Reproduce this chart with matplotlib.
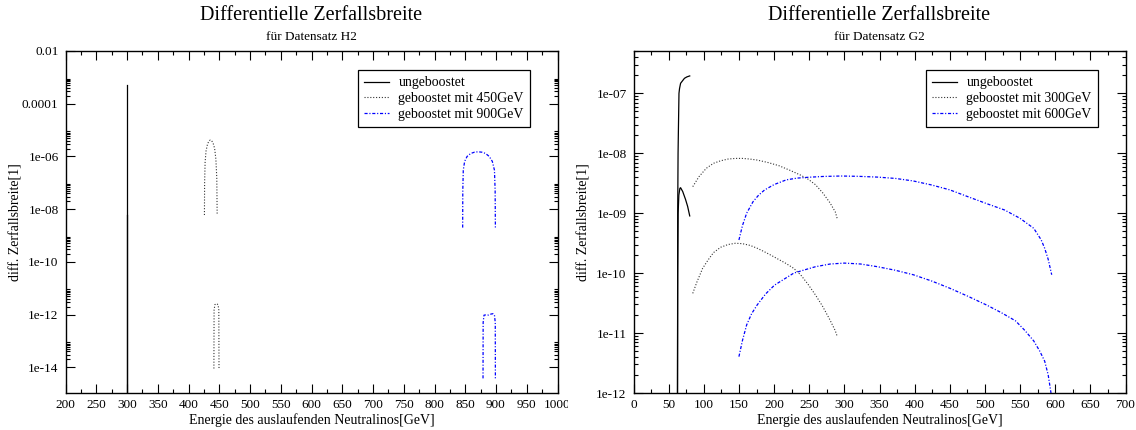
import matplotlib
matplotlib.use('Agg')
import matplotlib.pyplot as plt
from matplotlib.patches import Rectangle
from matplotlib.ticker import FixedLocator, FixedFormatter, MultipleLocator, NullFormatter

plt.rcParams['font.family'] = ['Liberation Serif', 'DejaVu Serif']

# ---------------- data: Datensatz H2 ----------------
h2_title = "Differentielle Zerfallsbreite"
h2_subtitle = "für Datensatz H2"
h2_labels = ["ungeboostet", "geboostet mit 450GeV", "geboostet mit 900GeV"]

h2_unb_a_x = [300.0, 300.0]
h2_unb_a_y = [1e-16, 5e-4]
h2_unb_b_x = [300.0, 300.0]
h2_unb_b_y = [1e-16, 6e-9]

h2_450_a_x = [425.9, 426.2, 427.0, 428.5, 431.0, 433.5, 435.5, 437.5, 440.0, 442.5, 444.5, 446.0, 446.6]
h2_450_a_y = [6e-9, 1e-7, 6e-7, 1.6e-6, 3.0e-6, 3.9e-6, 4.2e-6, 4.0e-6, 3.2e-6, 2.0e-6, 8e-7, 1.5e-7, 6e-9]
h2_450_b_x = [441.3, 441.6, 443.0, 445.5, 448.0, 449.3, 449.6]
h2_450_b_y = [9e-15, 1.5e-12, 2.4e-12, 2.6e-12, 2.4e-12, 1.5e-12, 9e-15]

h2_900_a_x = [845.8, 846.0, 846.8, 849, 853, 859, 865, 871, 877, 883, 889, 894, 897.5, 898.6, 899.0]
h2_900_a_y = [2e-9, 5e-8, 3e-7, 6.5e-7, 1.0e-6, 1.3e-6, 1.45e-6, 1.5e-6, 1.45e-6, 1.3e-6, 1.0e-6, 6.5e-7, 3e-7, 5e-8, 2e-9]
h2_900_b_x = [878.9, 879.1, 880.5, 884, 888, 892, 895, 897.5, 898.8, 899.0]
h2_900_b_y = [3.8e-15, 5e-13, 9.5e-13, 9.8e-13, 9.6e-13, 1.05e-12, 1.08e-12, 9.5e-13, 5e-13, 3.8e-15]

h2_xticks = list(range(200, 1001, 50))
h2_xticklabels = [str(v) for v in h2_xticks]
h2_yticks = [1e-14, 1e-12, 1e-10, 1e-8, 1e-6, 1e-4, 1e-2]
h2_yticklabels = ["1e-14", "1e-12", "1e-10", "1e-08", "1e-06", "0.0001", "0.01"]

# ---------------- data: Datensatz G2 ----------------
g2_title = "Differentielle Zerfallsbreite"
g2_subtitle = "für Datensatz G2"
g2_labels = ["ungeboostet", "geboostet mit 300GeV", "geboostet mit 600GeV"]

g2_unb_a_x = [62.6, 62.9, 63.4, 63.8, 64.7, 65.5, 67.0, 72.5, 76.0, 80.0]
g2_unb_a_y = [1e-12, 1e-9, 1e-8, 2.1e-8, 1e-7, 1.2e-7, 1.47e-7, 1.78e-7, 1.88e-7, 1.95e-7]
g2_unb_b_x = [62.6, 62.9, 63.5, 64.5, 66.0, 67.0, 70.0, 74.0, 77.0, 80.0]
g2_unb_b_y = [1e-12, 1e-10, 1e-9, 2e-9, 2.6e-9, 2.66e-9, 2.3e-9, 1.7e-9, 1.3e-9, 9e-10]

g2_300_a_x = [84.3, 93.1, 103.5, 113.8, 124.2, 134.5, 144.9, 155.2, 165.5, 175.9, 191.4, 206.9,
              222.5, 238.0, 248.3, 258.7, 269.0, 279.4, 287.1, 290.0]
g2_300_a_y = [2.77e-9, 4.06e-9, 5.6e-9, 6.8e-9, 7.5e-9, 8.0e-9, 8.2e-9, 8.2e-9, 8.0e-9, 7.7e-9,
              7.0e-9, 6.2e-9, 5.2e-9, 4.3e-9, 3.7e-9, 3.0e-9, 2.2e-9, 1.5e-9, 1.05e-9, 8e-10]
g2_300_b_x = [84.3, 90, 98.3, 106, 113.8, 124, 134.5, 145, 155, 166, 176, 186, 197, 207, 217,
              228, 238, 248, 259, 269, 279, 287, 290]
g2_300_b_y = [4.6e-11, 7.0e-11, 1.2e-10, 1.65e-10, 2.2e-10, 2.7e-10, 3.0e-10, 3.15e-10, 3.1e-10,
              2.9e-10, 2.6e-10, 2.28e-10, 1.95e-10, 1.68e-10, 1.45e-10, 1.2e-10, 9.3e-11, 6.6e-11,
              4.3e-11, 2.8e-11, 1.7e-11, 1.1e-11, 8.7e-12]

g2_600_a_x = [150, 155, 161, 170, 178, 186.5, 200, 217.4, 233, 248.4, 270, 295, 320, 347, 372.7,
              398, 424.4, 450, 476, 502, 528, 550, 569.4, 580, 585, 590, 595]
g2_600_a_y = [3.57e-10, 6.2e-10, 1e-9, 1.55e-9, 2.0e-9, 2.44e-9, 3.0e-9, 3.6e-9, 3.85e-9, 3.97e-9,
              4.1e-9, 4.17e-9, 4.12e-9, 4.0e-9, 3.8e-9, 3.45e-9, 2.95e-9, 2.45e-9, 1.88e-9, 1.45e-9,
              1.13e-9, 8.2e-10, 5.6e-10, 3.6e-10, 2.6e-10, 1.7e-10, 9.4e-11]
g2_600_b_x = [150, 155, 161, 168, 176, 188, 200.6, 214, 228, 243, 259, 280, 300, 323, 347, 372,
              398, 424, 450, 476, 502, 523, 543.5, 557, 569.4, 578, 585, 590, 594]
g2_600_b_y = [4.04e-12, 7.5e-12, 1.37e-11, 2.1e-11, 2.95e-11, 4.5e-11, 6.3e-11, 7.9e-11, 1.0e-10,
              1.13e-10, 1.28e-10, 1.42e-10, 1.47e-10, 1.42e-10, 1.28e-10, 1.12e-10, 9.4e-11, 7.4e-11,
              5.6e-11, 4.1e-11, 2.95e-11, 2.2e-11, 1.6e-11, 1.1e-11, 7.4e-12, 5e-12, 3.4e-12, 2e-12, 1e-12]

g2_xticks = list(range(0, 701, 50))
g2_xticklabels = [str(v) for v in g2_xticks]
g2_yticks = [1e-12, 1e-11, 1e-10, 1e-9, 1e-8, 1e-7]
g2_yticklabels = ["1e-12", "1e-11", "1e-10", "1e-09", "1e-08", "1e-07"]

xlabel = "Energie des auslaufenden Neutralinos[GeV]"
ylabel = "diff. Zerfallsbreite[1]"

# ---------------- figure ----------------
W, H = 1136, 430
fig = plt.figure(figsize=(W / 100, H / 100), dpi=100)


def px_axes(x0, x1, ytop, ybot):
    return [x0 / W, 1 - ybot / H, (x1 - x0) / W, (ybot - ytop) / H]


axL = fig.add_axes(px_axes(65.5, 557.5, 51, 393))
axR = fig.add_axes(px_axes(633.5, 1125.5, 51, 393), zorder=3)

solid = dict(color='black', lw=0.9, ls='-')
dotted = dict(color='#333333', lw=0.8, ls=(0, (1, 1.6)))
dashdot = dict(color='#0000ff', lw=0.9, ls=(0, (2.5, 1.4, 0.9, 1.4)))

# left plot
lA, = axL.plot(h2_unb_a_x, h2_unb_a_y, **solid)
axL.plot(h2_unb_b_x, h2_unb_b_y, **solid)
lB, = axL.plot(h2_450_a_x, h2_450_a_y, **dotted)
axL.plot(h2_450_b_x, h2_450_b_y, **dotted)
lC, = axL.plot(h2_900_a_x, h2_900_a_y, **dashdot)
axL.plot(h2_900_b_x, h2_900_b_y, **dashdot)

# right plot
rA, = axR.plot(g2_unb_a_x, g2_unb_a_y, **solid)
axR.plot(g2_unb_b_x, g2_unb_b_y, **solid)
rB, = axR.plot(g2_300_a_x, g2_300_a_y, **dotted)
axR.plot(g2_300_b_x, g2_300_b_y, **dotted)
rC, = axR.plot(g2_600_a_x, g2_600_a_y, **dashdot)
axR.plot(g2_600_b_x, g2_600_b_y, **dashdot)


def style(ax, xlim, ylim, xticks, xtl, yticks, ytl, yminor, title, subtitle, handles, labels):
    ax.set_yscale('log')
    ax.set_xlim(*xlim)
    ax.set_ylim(*ylim)
    ax.xaxis.set_major_locator(FixedLocator(xticks))
    ax.xaxis.set_major_formatter(FixedFormatter(xtl))
    ax.xaxis.set_minor_locator(MultipleLocator(25))
    ax.yaxis.set_major_locator(FixedLocator(yticks))
    ax.yaxis.set_major_formatter(FixedFormatter(ytl))
    ax.yaxis.set_minor_locator(FixedLocator(yminor))
    ax.yaxis.set_minor_formatter(NullFormatter())
    ax.tick_params(which='both', direction='in', top=True, right=True, width=0.8,
                   colors='black', labelsize=9.5)
    ax.tick_params(which='major', length=6.5)
    ax.tick_params(which='minor', length=3)
    ax.tick_params(axis='x', pad=4)
    ax.tick_params(axis='y', pad=5)
    for s in ax.spines.values():
        s.set_linewidth(1.0)
        s.set_color('black')
    ax.set_xlabel(xlabel, fontsize=10, labelpad=2)
    ax.set_ylabel(ylabel, fontsize=10)
    ax.yaxis.set_label_coords(-0.087, 0.5)
    ax.text(0.5, 1.103, title, transform=ax.transAxes, ha='center', va='center', fontsize=14.5)
    ax.text(0.5, 1.040, subtitle, transform=ax.transAxes, ha='center', va='center', fontsize=9.5)
    leg = ax.legend(handles, labels, loc='upper right', bbox_to_anchor=(0.944, 0.944),
                    borderaxespad=0, fontsize=10, frameon=True, fancybox=False,
                    edgecolor='black', framealpha=1, handlelength=1.75, handletextpad=0.7,
                    labelspacing=0.2, borderpad=0.45)
    leg.get_frame().set_linewidth(0.9)


left_minor = [k * 10.0 ** e for e in range(-14, -3, 2) for k in range(2, 10)]
right_minor = [k * 10.0 ** e for e in range(-12, -6) for k in range(2, 10)]

style(axL, (200, 1000), (1.06e-15, 1e-2), h2_xticks, h2_xticklabels, h2_yticks, h2_yticklabels,
      left_minor, h2_title, h2_subtitle, [lA, lB, lC], h2_labels)
style(axR, (0, 700), (1e-12, 5.08e-7), g2_xticks, g2_xticklabels, g2_yticks, g2_yticklabels,
      right_minor, g2_title, g2_subtitle, [rA, rB, rC], g2_labels)

# the left image ends at x=568 px: mask what spills beyond it
fig.add_artist(Rectangle((568 / W, 0), (633.5 - 568) / W, 1, transform=fig.transFigure,
                         facecolor='white', edgecolor='none', zorder=1))

fig.savefig('out.png', dpi=100, facecolor='white')
